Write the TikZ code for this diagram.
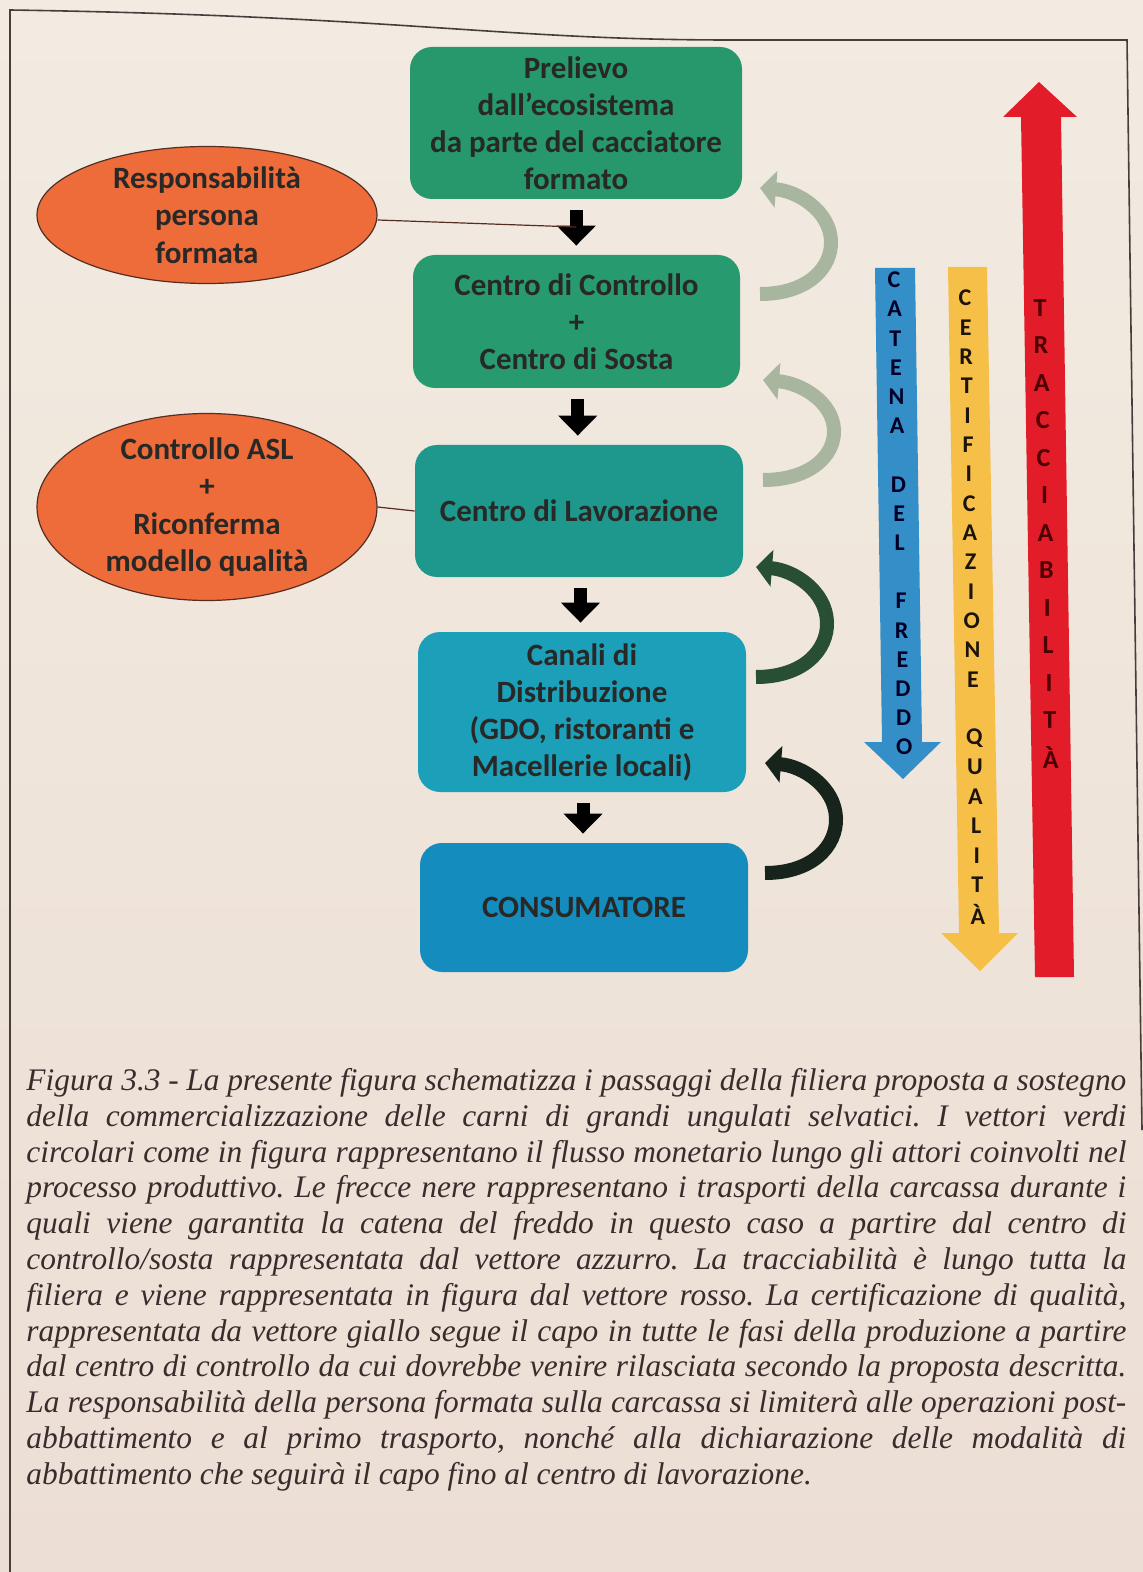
\documentclass[tikz,border=0pt]{standalone}
\usepackage{fontspec}
\setmainfont{Liberation Serif}
\newfontfamily\carlito{Carlito}
\usepackage{tikz}
\usetikzlibrary{arrows.meta,shapes.geometric,calc}

\definecolor{papertop}{RGB}{242,235,225}
\definecolor{paperbottom}{RGB}{236,222,212}
\definecolor{framegray}{RGB}{70,62,60}
\definecolor{greenone}{RGB}{38,152,108}
\definecolor{greentwo}{RGB}{40,154,112}
\definecolor{tealbox}{RGB}{30,152,140}
\definecolor{cyanbox}{RGB}{28,160,186}
\definecolor{bluebox}{RGB}{20,140,190}
\definecolor{dutyorange}{RGB}{238,108,58}
\definecolor{rimbrown}{RGB}{85,45,35}
\definecolor{inkgray}{RGB}{40,40,38}
\definecolor{moneylight}{RGB}{168,182,160}
\definecolor{moneymid}{RGB}{40,78,52}
\definecolor{moneydark}{RGB}{22,36,28}
\definecolor{freddoblue}{RGB}{52,142,200}
\definecolor{qualitayellow}{RGB}{246,192,72}
\definecolor{tracciared}{RGB}{226,28,40}
\definecolor{captionink}{RGB}{55,45,45}

\newcommand\capline[1]{\makebox[550pt][s]{#1}}
\frenchspacing

\begin{document}
\begin{tikzpicture}[x=0.5pt,y=-0.5pt,
  every node/.style={inner sep=0pt},
  stage/.style={rectangle,rounded corners=11pt,align=center,text=inkgray,
    font=\carlito\bfseries\fontsize{15.5}{18.5}\selectfont},
  duty/.style={ellipse,draw=rimbrown,line width=0.6pt,fill=dutyorange},
  dutytext/.style={align=center,text=inkgray,
    font=\carlito\bfseries\fontsize{15.5}{18.8}\selectfont},
  carry/.style={line width=6.5pt,draw=black,-{Triangle[length=10pt,width=19pt]}},
  money/.style={line width=7pt,-{Triangle[length=8pt,width=18pt]}},
  barletter/.style={font=\carlito\bfseries\fontsize{12}{12}\selectfont},
  caption/.style={align=left,text=captionink,
    font=\itshape\fontsize{15.7}{17.9}\selectfont}]
  \useasboundingbox (0,0) rectangle (1143,1572);
  \shade[top color=papertop,bottom color=paperbottom] (0,0) rectangle (1143,1572);
  \draw[framegray,line width=0.8pt] (10,1572) -- (10,10) .. controls (400,16) and (500,40) .. (730,40)
    -- (1127,40) -- (1142,1130);

  % stages of the chain
  \node[stage,fill=greenone,minimum width=166pt,minimum height=76pt] (prelievo) at (576,123)
    {Prelievo\\dall’ecosistema\\da parte del cacciatore\\formato};
  \node[stage,fill=greentwo,minimum width=163.5pt,minimum height=66.5pt] (controllo) at (576.5,321.5)
    {Centro di Controllo\\+\\Centro di Sosta};
  \node[stage,fill=tealbox,minimum width=164pt,minimum height=66pt] (lavorazione) at (579,511)
    {Centro di Lavorazione};
  \node[stage,fill=cyanbox,minimum width=164pt,minimum height=80pt] (canali) at (582,712)
    {Canali di\\Distribuzione\\(GDO, ristoranti e\\Macellerie locali)};
  \node[stage,fill=bluebox,minimum width=164pt,minimum height=64.5pt] (consumatore) at (584,907.5)
    {CONSUMATORE};

  % responsibilities
  \node[duty,minimum width=170pt,minimum height=68.5pt] (resp) at (207,215) {};
  \node[dutytext] (resp-text) at (resp) {Responsabilità\\persona\\formata};
  \node[duty,minimum width=170pt,minimum height=93.5pt] (asl) at (207,507) {};
  \node[dutytext] (asl-text) at (asl) {Controllo ASL\\+\\Riconferma\\modello qualità};

  % transports
  \foreach \from/\to in {prelievo/controllo,controllo/lavorazione,lavorazione/canali,canali/consumatore}{
    \coordinate (drop-\from) at ($(\from.south)!.5!(\to.north)$);
    \draw[carry] ($(drop-\from |- \from.south)+(0,11)$) -- ($(drop-\from |- \to.north)+(0,-9)$);
  }
  \draw[rimbrown,line width=0.6pt] ($(resp.east)+(0,5)$) -- (drop-prelievo);
  \draw[rimbrown,line width=0.6pt] (asl.east) -- (lavorazione.west);

  % money flow
  \foreach \xo/\ty/\hy/\tone in {760/294/188/moneylight,763/480/380/moneylight,
      756/677/567/moneymid,765/873/763/moneydark}{
    \pgfmathsetmacro\h{\ty-\hy}
    \pgfmathsetmacro\my{(\ty+\hy)/2}
    \draw[money,draw=\tone] (\xo,\ty) .. controls ({\xo+48},\ty) and ({\xo+72},{\ty-0.25*\h})
      .. ({\xo+71},\my) .. controls ({\xo+70},{\hy+0.22*\h}) and ({\xo+38},{\hy+3}) .. (\xo,\hy);
  }

  % vectors
  \fill[freddoblue] (875,268) -- (915,268) -- (922,742) -- (941,742) -- (903,779)
    -- (864,742) -- (882,742) -- cycle;
  \fill[qualitayellow] (948,267) -- (987,267) -- (999,933) -- (1018,933) -- (980,971)
    -- (941,933) -- (959,933) -- cycle;
  \fill[tracciared] (1039,82) -- (1077,117) -- (1061,117) -- (1074,977) -- (1035,977)
    -- (1021,117) -- (1003,117) -- cycle;
  \foreach \ch [count=\i] in {C,A,T,E,N,A,{},D,E,L,{},F,R,E,D,D,O}{
    \pgfmathsetmacro\ly{280+29.2*(\i-1)}
    \node[barletter,text=black!85!blue] (freddo-\i) at ({894+0.022*(\ly-280)},\ly) {\ch};
  }
  \foreach \ch [count=\i] in {C,E,R,T,I,F,I,C,A,Z,I,O,N,E,{},Q,U,A,L,I,T,À}{
    \pgfmathsetmacro\ly{298+29.33*(\i-1)}
    \node[barletter,text=black!85!brown] (qualita-\i) at ({965+0.021*(\ly-298)},\ly) {\ch};
  }
  \foreach \ch [count=\i] in {T,R,A,C,C,I,A,B,I,L,I,T,À}{
    \pgfmathsetmacro\ly{308+37.5*(\i-1)}
    \node[barletter,font=\carlito\bfseries\fontsize{13}{13}\selectfont,text=black!70!red]
      (traccia-\i) at ({1040+0.024*(\ly-308)},\ly) {\ch};
  }

  % caption
  \node[caption,anchor=north west] (legenda) at (26,1068) {%
    \capline{Figura 3.3 - La presente figura schematizza i passaggi della filiera proposta a sostegno}\\
    \capline{della commercializzazione delle carni di grandi ungulati selvatici. I vettori verdi}\\
    \capline{circolari come in figura rappresentano il flusso monetario lungo gli attori coinvolti nel}\\
    \capline{processo produttivo. Le frecce nere rappresentano i trasporti della carcassa durante i}\\
    \capline{quali viene garantita la catena del freddo in questo caso a partire dal centro di}\\
    \capline{controllo/sosta rappresentata dal vettore azzurro. La tracciabilità è lungo tutta la}\\
    \capline{filiera e viene rappresentata in figura dal vettore rosso. La certificazione di qualità,}\\
    \capline{rappresentata da vettore giallo segue il capo in tutte le fasi della produzione a partire}\\
    \capline{dal centro di controllo da cui dovrebbe venire rilasciata secondo la proposta descritta.}\\
    \capline{La responsabilità della persona formata sulla carcassa si limiterà alle operazioni post-}\\
    \capline{abbattimento e al primo trasporto, nonché alla dichiarazione delle modalità di}\\
    abbattimento che seguirà il capo fino al centro di lavorazione.};
\end{tikzpicture}
\end{document}
